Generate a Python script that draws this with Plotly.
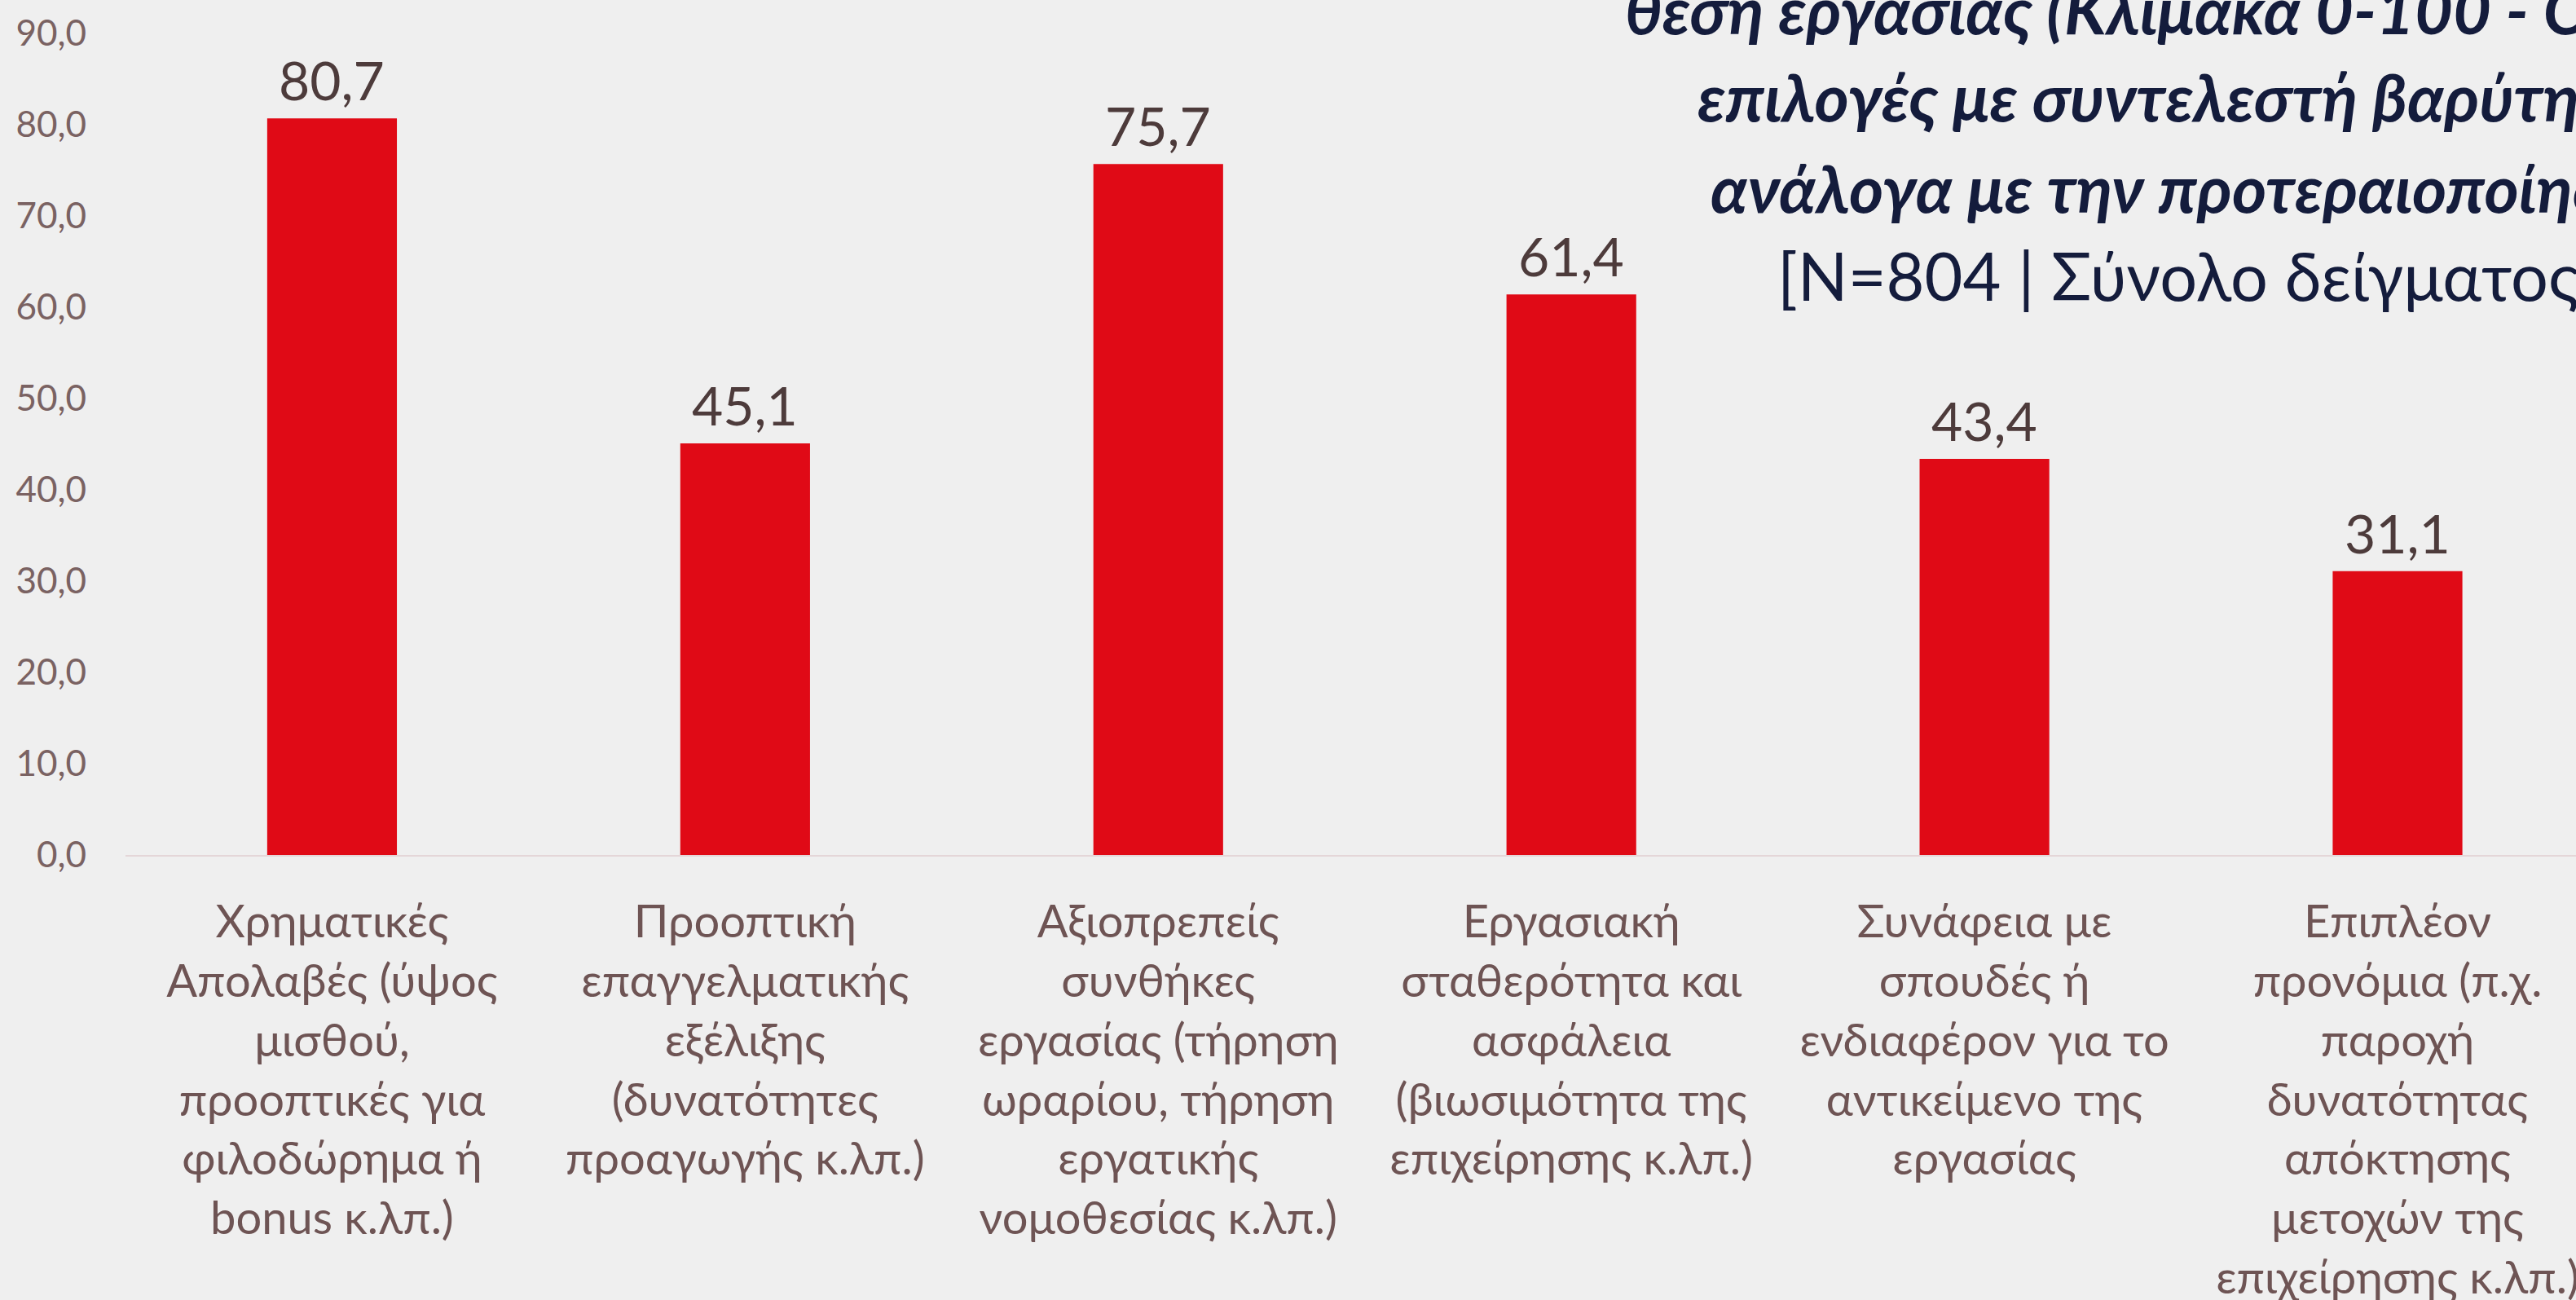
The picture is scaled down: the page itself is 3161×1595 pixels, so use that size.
import plotly.graph_objects as go

categories = [
    "Χρηματικές<br>Απολαβές (ύψος<br>μισθού,<br>προοπτικές για<br>φιλοδώρημα ή<br>bonus κ.λπ.)",
    "Προοπτική<br>επαγγελματικής<br>εξέλιξης<br>(δυνατότητες<br>προαγωγής κ.λπ.)",
    "Αξιοπρεπείς<br>συνθήκες<br>εργασίας (τήρηση<br>ωραρίου, τήρηση<br>εργατικής<br>νομοθεσίας κ.λπ.)",
    "Εργασιακή<br>σταθερότητα και<br>ασφάλεια<br>(βιωσιμότητα της<br>επιχείρησης κ.λπ.)",
    "Συνάφεια με<br>σπουδές ή<br>ενδιαφέρον για το<br>αντικείμενο της<br>εργασίας",
    "Επιπλέον<br>προνόμια (π.χ.<br>παροχή<br>δυνατότητας<br>απόκτησης<br>μετοχών της<br>επιχείρησης κ.λπ.)",
]
values = [80.7, 45.1, 75.7, 61.4, 43.4, 31.1]
y_ticks = [0, 10, 20, 30, 40, 50, 60, 70, 80, 90]
title_lines = [
    "<b><i>θέση εργασίας (Κλίμακα 0-100 - Οι</i></b>",
    "<b><i>επιλογές με συντελεστή βαρύτητας</i></b>",
    "<b><i>ανάλογα με την προτεραιοποίηση)</i></b>",
    "[N=804 | Σύνολο δείγματος]",
]

W, H = 3161, 1595
L, T, B = 154, 41, 546
PW, PH = W - L, H - T - B
FONT = "Lato, 'Noto Sans', sans-serif"

# title line placement (left edge px, vertical centre px)
title_pos = [(1992, 10), (2081, 118), (2097, 229), (2179, 338)]

fig = go.Figure()
fig.add_trace(go.Bar(
    x=list(range(len(categories))),
    y=values,
    marker=dict(color="#e00a16", line=dict(width=0)),
    cliponaxis=False,
))

annotations = []
for i, v in enumerate(values):
    annotations.append(dict(
        x=i, y=v, xref="x", yref="y",
        text=f"{v:.1f}".replace(".", ","),
        showarrow=False, xanchor="center", yanchor="bottom", yshift=6,
        font=dict(family=FONT, size=66, color="#4d3b3b"),
    ))
for (px, py), line in zip(title_pos, title_lines):
    annotations.append(dict(
        xref="paper", yref="paper",
        x=(px - L) / PW, y=(H - B - py) / PH,
        xanchor="left", yanchor="middle",
        text=line, align="left", showarrow=False,
        font=dict(family=FONT, size=81, color="#141c3c"),
    ))

fig.update_layout(
    width=W, height=H,
    margin=dict(l=L, r=0, t=T, b=B, pad=0),
    paper_bgcolor="#efefef",
    plot_bgcolor="#efefef",
    separators=",.",
    showlegend=False,
    bargap=0.686,
    font=dict(family=FONT),
    xaxis=dict(
        tickmode="array",
        tickvals=list(range(len(categories))),
        ticktext=categories,
        range=[-0.5, 5.432],
        showgrid=False, zeroline=False,
        showline=True, linecolor="#e4d6d8", linewidth=2,
        ticks="", tickfont=dict(family=FONT, size=56, color="#6e5454"),
        ticklabelstandoff=32,
        ticklabeloverflow="allow",
        automargin=False,
    ),
    yaxis=dict(
        range=[0, 90],
        tickvals=y_ticks,
        tickformat=".1f",
        showgrid=False, zeroline=False, showline=False,
        ticks="", tickfont=dict(family=FONT, size=44, color="#7a6262"),
        ticklabelstandoff=47,
        automargin=False,
    ),
    annotations=annotations,
)

fig.write_html(
    "out.html",
    config={"displayModeBar": False},
    post_script="document.body.style.margin='0';document.body.style.overflow='hidden';",
)
